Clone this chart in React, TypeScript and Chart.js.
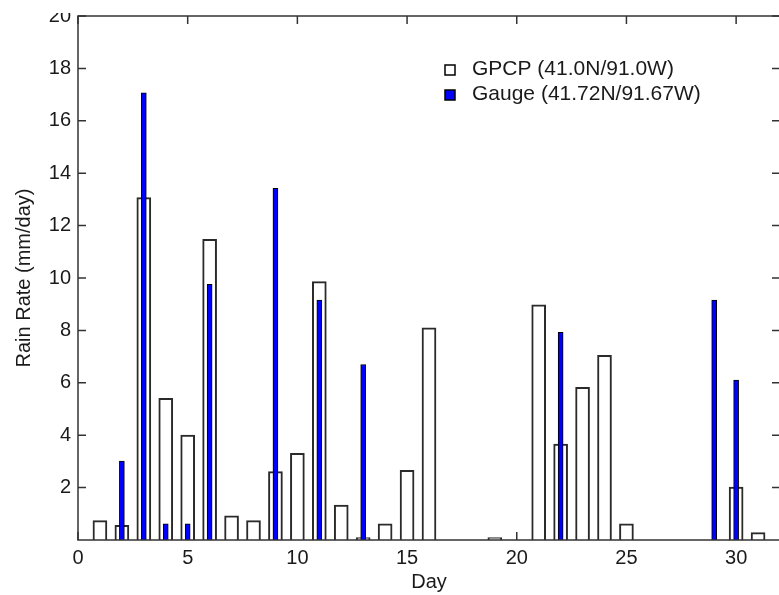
import React, { useEffect, useRef } from "react";
import { Chart, registerables } from "chart.js";
Chart.register(...registerables);

// ---- data ----
const days = [1, 2, 3, 4, 5, 6, 7, 8, 9, 10, 11, 12, 13, 14, 15, 16, 17, 18, 19, 20, 21, 22, 23, 24, 25, 26, 27, 28, 29, 30, 31];
const gpcpValues = [0.74, 0.56, 13.07, 5.41, 4.0, 11.48, 0.92, 0.74, 2.61, 3.31, 9.86, 1.33, 0.09, 0.62, 2.66, 8.1, null, null, 0.09, null, 8.98, 3.66, 5.83, 7.05, 0.62, null, null, null, null, 2.02, 0.28];
const gaugeValues = [null, 3.01, 17.07, 0.62, 0.62, 9.76, null, null, 13.42, null, 9.16, null, 6.7, null, null, null, null, null, null, null, null, 7.93, null, null, null, null, null, null, 9.16, 6.1, null];
const seriesLabels = ["GPCP (41.0N/91.0W)", "Gauge (41.72N/91.67W)"];
const xTickValues = [0, 5, 10, 15, 20, 25, 30];
const yTickValues = [2, 4, 6, 8, 10, 12, 14, 16, 18, 20];
const xLabel = "Day";
const yLabel = "Rain Rate (mm/day)";

const FONT = "'Liberation Sans', Arial, sans-serif";
const TEXT = "#1a1a1a";
const AXIS = "#333333";

const axesPlugin = {
  id: "matlabAxes",
  beforeDatasetsDraw(chart: any) {
    const { ctx, chartArea: a, scales } = chart;
    const tl = 8;
    ctx.save();
    ctx.strokeStyle = AXIS;
    ctx.lineWidth = 1.5;
    ctx.beginPath();
    scales.y.ticks.forEach((t: any) => {
      const py = scales.y.getPixelForValue(t.value);
      ctx.moveTo(a.left, py);
      ctx.lineTo(a.left + tl, py);
      ctx.moveTo(a.right, py);
      ctx.lineTo(a.right - tl, py);
    });
    scales.x.ticks.forEach((t: any) => {
      const px = scales.x.getPixelForValue(t.value);
      ctx.moveTo(px, a.bottom);
      ctx.lineTo(px, a.bottom - tl);
      ctx.moveTo(px, a.top);
      ctx.lineTo(px, a.top + tl);
    });
    ctx.stroke();
    ctx.restore();
  },
  afterDatasetsDraw(chart: any) {
    const { ctx, chartArea: a } = chart;
    ctx.save();
    ctx.strokeStyle = AXIS;
    ctx.lineWidth = 1.5;
    ctx.strokeRect(a.left, a.top, a.right - a.left, a.bottom - a.top);
    ctx.restore();
  },
  afterDraw(chart: any) {
    const { ctx, chartArea: a } = chart;
    ctx.save();
    // top strip is cropped in the reference
    ctx.fillStyle = "#ffffff";
    ctx.fillRect(0, 0, a.left - 1, 13);
    // legend
    ctx.font = `21px ${FONT}`;
    ctx.textBaseline = "middle";
    ctx.textAlign = "left";
    chart.data.datasets.forEach((ds: any, i: number) => {
      const cy = 70 + i * 25;
      ctx.fillStyle = ds.backgroundColor;
      ctx.fillRect(445, cy - 5, 10, 10);
      ctx.strokeStyle = "#000";
      ctx.lineWidth = 1.5;
      ctx.strokeRect(445, cy - 5, 10, 10);
      ctx.fillStyle = TEXT;
      ctx.fillText(ds.label, 472, cy - 0.5);
    });
    ctx.restore();
  },
};

export default function App() {
  const ref = useRef<HTMLCanvasElement | null>(null);
  useEffect(() => {
    const canvas = ref.current!;
    document.body.style.margin = "0";
    const chart = new Chart(canvas, {
      type: "bar",
      data: {
        datasets: [
          {
            label: seriesLabels[0],
            data: days.map((d, i) => ({ x: d, y: gpcpValues[i] })) as any,
            backgroundColor: "#ffffff",
            borderColor: "#2a2a2a",
            borderWidth: 2,
            barThickness: 14,
            grouped: false,
            order: 2,
            borderSkipped: "start",
          } as any,
          {
            label: seriesLabels[1],
            data: days.map((d, i) => ({ x: d, y: gaugeValues[i] })) as any,
            backgroundColor: "#0000ff",
            borderColor: "#000000",
            borderWidth: 1,
            barThickness: 5,
            grouped: false,
            order: 1,
            borderSkipped: "start",
          } as any,
        ],
      },
      options: {
        animation: false,
        responsive: false,
        devicePixelRatio: 1,
        layout: { padding: { top: 16, right: 2, left: 0, bottom: 0 } },
        plugins: { legend: { display: false }, tooltip: { enabled: false } },
        scales: {
          x: {
            type: "linear",
            min: 0,
            max: 32,
            offset: false,
            grid: { display: false, drawTicks: false },
            border: { display: false },
            afterBuildTicks: (s: any) => {
              s.ticks = xTickValues.map((v) => ({ value: v }));
            },
            afterFit: (s: any) => {
              s.height = 55;
              s.paddingLeft = 0;
              s.paddingRight = 0;
            },
            ticks: {
              padding: 6,
              color: TEXT,
              font: { family: FONT, size: 20 },
              maxRotation: 0,
              autoSkip: false,
            },
            title: {
              display: true,
              text: xLabel,
              color: TEXT,
              font: { family: FONT, size: 20 },
              padding: { top: 0, bottom: 1 },
            },
          },
          y: {
            type: "linear",
            min: 0,
            max: 20,
            grid: { display: false, drawTicks: false },
            border: { display: false },
            afterBuildTicks: (s: any) => {
              s.ticks = yTickValues.map((v) => ({ value: v }));
            },
            afterFit: (s: any) => {
              s.width = 78;
              s.paddingTop = 0;
              s.paddingBottom = 0;
            },
            ticks: {
              padding: 7,
              color: TEXT,
              font: { family: FONT, size: 20 },
              autoSkip: false,
            },
            title: {
              display: true,
              text: yLabel,
              color: TEXT,
              font: { family: FONT, size: 20 },
              padding: { top: 12, bottom: 0 },
            },
          },
        },
      } as any,
      plugins: [axesPlugin],
    });
    return () => chart.destroy();
  }, []);
  return (
    <div
      style={{
        position: "fixed",
        left: 0,
        top: 0,
        width: 779,
        height: 595,
        overflow: "hidden",
        background: "#ffffff",
      }}
    >
      <canvas ref={ref} width={782} height={595} style={{ width: 782, height: 595, display: "block" }} />
    </div>
  );
}
